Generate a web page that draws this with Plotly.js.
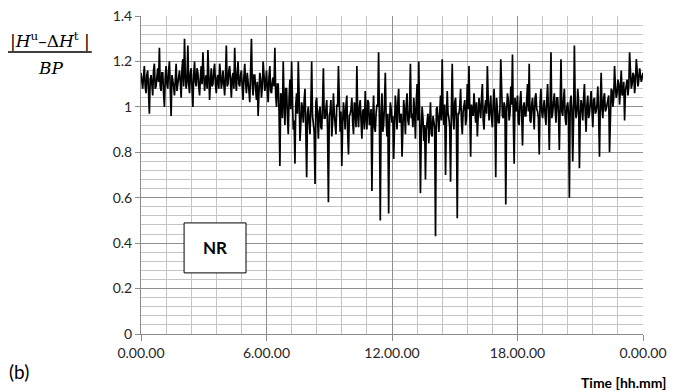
<!DOCTYPE html>
<html>
<head>
<meta charset="utf-8">
<script src="https://cdn.plot.ly/plotly-3.0.1.min.js"></script>
<style>html,body{margin:0;padding:0;background:#fff;}#chart{width:673px;height:392px;}</style>
</head>
<body>
<div id="chart"></div>
<script>
// Sampled ratio |Hu - dHt| / BP over one day.
// Samples on the whole steps (every 0.08 h) ...
const sampleStepHours = 0.08;
const ratioValuesOnStep = [
  1.15,1.08,1.18,1.06,1.16,0.97,1.14,1.05,1.19,1.09,
  1.17,1.26,1.07,1.15,1.00,1.18,1.08,1.20,0.96,1.12,
  1.05,1.19,1.10,1.16,1.04,1.21,1.30,1.08,1.27,1.06,
  1.17,1.00,1.20,1.09,1.15,1.05,1.18,1.24,1.07,1.14,
  1.25,1.03,1.17,1.10,1.19,1.06,1.14,1.19,1.08,1.16,
  1.05,1.27,1.10,1.18,1.04,1.15,1.26,1.07,1.20,1.09,
  1.16,1.03,1.19,1.06,1.12,1.02,1.30,1.05,1.14,1.03,
  0.96,1.15,1.04,1.20,1.07,1.16,1.02,1.18,1.06,1.13,
  1.26,1.00,1.10,0.74,1.05,1.20,0.92,1.08,0.88,1.12,
  1.20,0.90,0.75,1.06,1.20,0.85,1.02,0.93,1.08,0.69,
  1.00,0.88,1.20,0.92,0.66,1.04,0.86,1.00,0.90,1.17,
  0.95,1.03,0.58,0.98,0.87,1.06,0.92,1.01,1.18,0.89,
  0.74,1.02,0.90,1.05,0.79,0.97,1.04,0.88,1.00,1.18,
  0.91,1.03,0.86,0.99,1.07,0.90,1.02,0.94,0.63,1.05,
  0.89,1.01,1.24,0.50,1.06,0.92,1.15,0.87,0.53,1.02,
  0.93,0.77,1.05,0.90,1.08,0.95,0.78,1.03,0.88,1.06,
  0.92,1.19,0.97,1.04,0.86,1.10,1.20,0.62,1.00,0.85,
  0.68,0.96,0.84,1.02,0.87,0.94,0.43,1.00,0.89,1.05,
  1.21,0.92,0.70,1.07,0.95,0.67,1.19,0.90,1.04,0.51,
  0.97,1.08,0.88,1.02,0.92,1.10,1.18,0.78,0.98,1.06,
  0.93,0.87,1.04,0.95,1.10,0.90,1.03,1.18,0.94,1.05,
  0.91,1.08,0.69,1.00,0.93,1.21,0.96,1.02,0.57,1.06,
  0.94,1.09,1.23,0.75,0.98,1.05,0.92,1.07,0.83,1.02,
  0.96,1.10,1.19,0.93,1.04,0.90,1.06,0.98,0.79,1.08,
  0.95,1.03,0.92,1.10,0.81,1.24,0.97,1.06,0.93,1.04,
  0.81,1.21,0.96,1.08,0.92,1.02,0.60,1.05,0.76,1.27,
  0.95,1.08,0.73,1.03,0.94,1.10,0.89,1.05,0.97,1.07,
  0.91,1.04,0.98,1.09,0.78,1.15,0.95,1.06,0.99,1.03,
  0.80,1.08,1.00,1.18,1.04,1.12,1.01,1.16,1.06,0.94,
  1.10,1.05,1.24,1.08,1.15,1.06,1.21,1.09,1.17,1.11,
  1.15
];
// ... and the samples half a step later.
const ratioValuesHalfStep = [
  1.10,1.13,1.09,1.14,1.07,1.12,1.10,1.16,1.08,1.13,
  1.11,1.09,1.15,1.06,1.13,1.10,1.16,1.08,1.14,1.09,
  1.15,1.07,1.13,1.11,1.17,1.09,1.14,1.12,1.10,1.15,
  1.08,1.14,1.11,1.17,1.09,1.13,1.10,1.15,1.12,1.08,
  1.14,1.11,1.09,1.16,1.10,1.13,1.08,1.15,1.11,1.10,
  1.14,1.09,1.16,1.11,1.13,1.08,1.12,1.15,1.10,1.14,
  1.09,1.13,1.11,1.15,1.07,1.12,1.10,1.14,1.08,1.11,
  1.06,1.12,1.09,1.14,1.10,1.08,1.13,1.07,1.11,1.09,
  1.05,1.10,0.98,1.06,0.95,1.02,1.08,0.96,1.04,0.99,
  1.03,0.94,1.01,0.97,1.05,0.92,0.99,1.03,0.90,0.97,
  0.93,1.00,0.96,0.89,1.02,0.94,0.98,0.91,1.01,0.95,
  0.99,0.90,0.96,1.03,0.93,0.97,0.88,1.00,0.95,0.98,
  0.92,0.97,1.01,0.89,0.96,0.99,0.93,1.02,0.91,0.97,
  1.00,0.94,0.98,0.90,0.96,1.03,0.92,0.99,0.95,0.91,
  0.97,1.00,0.93,0.98,0.89,1.01,0.95,0.97,0.92,0.99,
  0.96,0.91,0.99,1.02,0.93,0.97,0.90,0.98,1.01,0.94,
  0.99,0.95,0.91,0.98,1.02,0.94,0.97,0.89,0.95,0.92,
  0.90,0.97,0.93,0.88,0.96,0.91,0.99,0.93,0.97,0.94,
  0.98,1.01,0.94,0.97,0.91,0.99,0.96,1.02,0.93,0.97,
  1.00,0.94,0.98,1.03,0.95,0.99,0.93,1.01,0.96,0.99,
  1.02,0.96,0.99,1.04,0.94,1.00,0.97,1.03,0.99,0.95,
  1.01,0.97,1.04,0.93,0.99,1.02,0.95,1.00,0.98,1.03,
  0.97,1.01,0.95,1.04,0.99,0.93,1.02,0.97,1.00,0.96,
  1.03,0.98,0.94,1.01,0.97,1.04,0.99,0.95,1.02,0.98,
  1.00,0.96,1.03,0.98,1.01,0.95,1.02,0.99,1.04,0.97,
  1.01,0.98,1.03,0.95,1.00,0.97,1.02,0.99,0.94,1.01,
  0.98,1.03,0.96,1.00,1.04,0.97,1.01,0.95,1.02,0.99,
  1.03,0.97,1.01,0.96,1.02,0.99,1.04,0.98,1.01,1.05,
  1.02,1.07,1.04,1.09,1.06,1.10,1.08,1.05,1.11,1.07,
  1.12,1.09,1.13,1.10,1.14,1.11,1.16,1.12,1.14,1.13
];
const xTickVals = [0, 6, 12, 18, 24];
const xTickText = ["0.00.00", "6.00.00", "12.00.00", "18.00.00", "0.00.00"];
const yTickVals = [0, 0.2, 0.4, 0.6, 0.8, 1, 1.2, 1.4];
const yTickText = ["0", "0.2", "0.4", "0.6", "0.8", "1", "1.2", "1.4"];

// Merge both sample sets in time order
const timeHours = [];
const ratioValues = [];
ratioValuesOnStep.forEach((v, i) => {
  timeHours.push(i * sampleStepHours);
  ratioValues.push(v);
  if (i < ratioValuesHalfStep.length) {
    timeHours.push((i + 0.5) * sampleStepHours);
    ratioValues.push(ratioValuesHalfStep[i]);
  }
});

const tickFont = {family: "Lato, 'Liberation Sans', sans-serif", size: 14, color: "#262626"};
const serifFont = {family: "'DejaVu Serif', 'Liberation Serif', serif", size: 17, color: "#000"};

const trace = {
  x: timeHours,
  y: ratioValues,
  type: "scatter",
  mode: "lines",
  line: {color: "#000000", width: 1.7},
  hoverinfo: "skip"
};

const layout = {
  width: 673,
  height: 392,
  margin: {l: 141, r: 30, t: 16, b: 58, pad: 0},
  paper_bgcolor: "#ffffff",
  plot_bgcolor: "#ffffff",
  showlegend: false,
  xaxis: {
    range: [0, 24],
    tickvals: xTickVals,
    ticktext: xTickText,
    ticks: "outside",
    ticklen: 6,
    tickcolor: "#8c8c8c",
    tickfont: tickFont,
    showline: true,
    linecolor: "#8c8c8c",
    linewidth: 1,
    showgrid: true,
    gridcolor: "#8f8f8f",
    gridwidth: 1,
    zeroline: false,
    minor: {dtick: 1.2, showgrid: true, gridcolor: "#c4c4c4", gridwidth: 1, ticks: ""},
    fixedrange: true
  },
  yaxis: {
    range: [0, 1.4],
    tickvals: yTickVals,
    ticktext: yTickText,
    ticks: "outside",
    ticklen: 5,
    tickcolor: "#8c8c8c",
    tickfont: tickFont,
    showline: true,
    linecolor: "#8c8c8c",
    linewidth: 1,
    showgrid: true,
    gridcolor: "#8f8f8f",
    gridwidth: 1,
    zeroline: false,
    minor: {dtick: 0.04, showgrid: true, gridcolor: "#c4c4c4", gridwidth: 1, ticks: ""},
    fixedrange: true
  },
  shapes: [
    {type: "line", xref: "paper", yref: "paper", x0: -0.265, x1: -0.098, y0: 0.887, y1: 0.887,
     line: {color: "#000", width: 1.5}},
    {type: "rect", xref: "x", yref: "y", x0: 2.06, x1: 5.02, y0: 0.269, y1: 0.489,
     fillcolor: "#ffffff", line: {color: "#000", width: 1}, layer: "above"}
  ],
  annotations: [
    {xref: "paper", yref: "paper", x: -0.181, y: 0.884, xanchor: "center", yanchor: "bottom",
     text: "|<i>H</i><sup>u</sup>–Δ<i>H</i><sup>t</sup> |", showarrow: false, font: serifFont},
    {xref: "paper", yref: "paper", x: -0.181, y: 0.874, xanchor: "center", yanchor: "top",
     text: "<i>BP</i>", showarrow: false, font: serifFont},
    {xref: "x", yref: "y", x: 3.54, y: 0.379, xanchor: "center", yanchor: "middle",
     text: "<b>NR</b>", showarrow: false,
     font: {family: "Lato, 'Liberation Sans', sans-serif", size: 17, color: "#000"}},
    {xref: "paper", yref: "paper", x: -0.266, y: -0.119, xanchor: "left", yanchor: "middle",
     text: "(b)", showarrow: false,
     font: {family: "Lato, 'Liberation Sans', sans-serif", size: 19, color: "#000"}},
    {xref: "paper", yref: "paper", x: 1.05, y: -0.151, xanchor: "right", yanchor: "middle",
     text: "<b>Time [hh.mm]</b>", showarrow: false,
     font: {family: "Lato, 'Liberation Sans', sans-serif", size: 14, color: "#000"}}
  ]
};

Plotly.newPlot("chart", [trace], layout, {displayModeBar: false, staticPlot: true});
</script>
</body>
</html>
